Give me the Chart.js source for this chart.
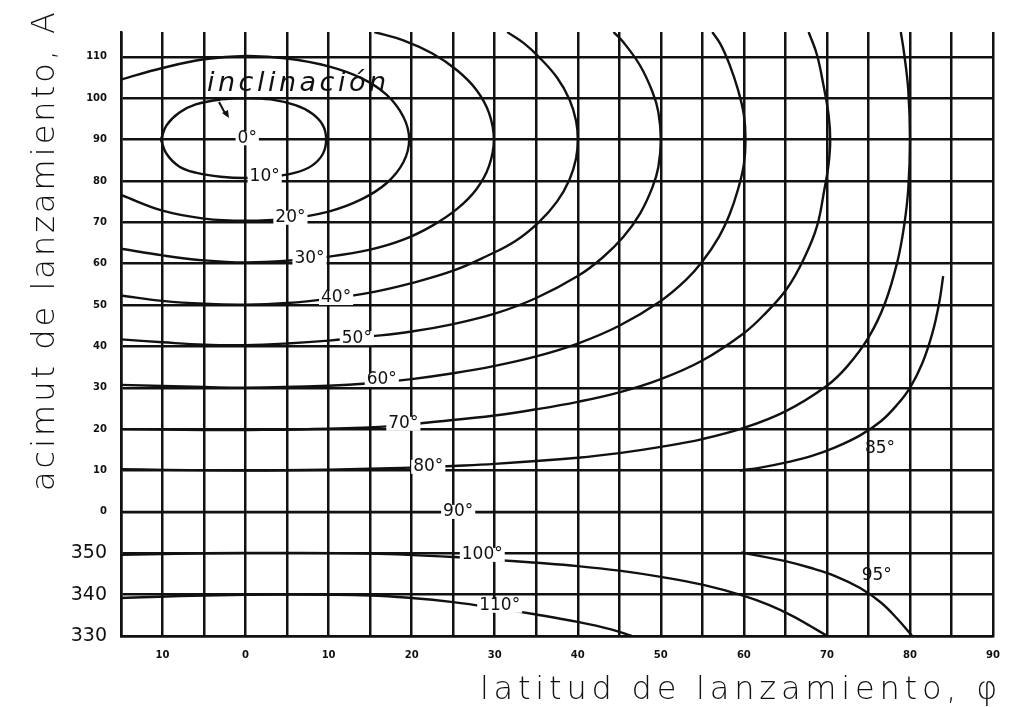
<!DOCTYPE html>
<html><head><meta charset="utf-8">
<script src="https://cdn.jsdelivr.net/npm/chart.js@4/dist/chart.umd.min.js"></script>
<style>html,body{margin:0;padding:0;background:#fff;}canvas{display:block;}</style>
</head><body>
<canvas id="c" width="1024" height="707"></canvas>
<script>
// ---- axis ticks ----
const xGrid = [-15,-10,-5,0,5,10,15,20,25,30,35,40,45,50,55,60,65,70,75,80,85,90];
const xTickValues = [-10,0,10,20,30,40,50,60,70,80,90];
const xTickLabels = ['10','0','10','20','30','40','50','60','70','80','90'];
const yTickValues = [-30,-20,-10,0,10,20,30,40,50,60,70,80,90,100,110];
const yTickLabels = ['330','340','350','0','10','20','30','40','50','60','70','80','90','100','110'];

// ---- contour curves: [latitude, azimuth] (azimuth 350 -> -10 etc.) ----
const curve10 = [[-10.2,90],[-9.5,93.5],[-8,96.5],[-6,98.5],[-3,99.7],[0,100],[3,99.7],[6,98.3],[8,96.3],[9.3,93.5],[9.7,90],[9.3,86.5],[8,83.7],[6,82],[3,81],[0,80.7],[-3,81],[-6,82],[-8,83.5],[-9.5,86.5],[-10.2,90]];
const curve20 = [[-15,104.5],[-10,107.3],[-5,109.4],[0,110.2],[5,109.6],[10,107.7],[14,104.8],[17,100.8],[19,95.5],[19.7,90],[19,84.5],[17,79.5],[14,75.6],[10,72.6],[5,70.9],[0,70.4],[-5,70.9],[-10,72.8],[-15,76.6]];
const curve30 = [[-15,63.6],[-10,62],[-5,60.8],[0,60.3],[5,60.7],[10,61.7],[15,63.4],[19,65.8],[22.5,69.2],[25.5,73.3],[27.8,78],[29.3,83.5],[29.9,90],[29.3,96.5],[27.8,102],[25.5,106.7],[22.5,110.8],[19,114],[15.5,116]];
const curve40 = [[-15,52.3],[-10,51],[-5,50.3],[0,50.1],[5,50.5],[10,51.5],[15,53],[20,55.3],[25,58.3],[29,61.8],[32.5,65.5],[35.3,70],[37.5,75],[39,80.3],[39.8,85.5],[40,90],[39.8,94.5],[39,99.7],[37.5,105],[35.3,110],[33.5,113.3],[31.5,116]];
const curve50 = [[-15,41.7],[-10,41],[-5,40.4],[0,40.3],[5,40.7],[10,41.4],[15,42.4],[20,43.6],[25,45.4],[30,47.9],[35,51.7],[40,57],[43,61.5],[45.5,66.5],[47.5,72.1],[49,78.5],[49.7,83.3],[50,90],[49.7,96.7],[49,101.5],[47.5,107.9],[45.5,113.5],[44.3,116]];
const curve60 = [[-15,30.7],[-5,30.2],[0,30],[10,30.5],[15,31.1],[20,32.1],[25,33.5],[30,35.3],[35,37.6],[40,40.7],[45,45],[50,51],[53,56],[55,60.5],[57,66.5],[58.3,72],[59.3,78],[60,84],[60.2,90],[60,96],[59.3,102],[58.3,108],[57.2,113],[56.2,116]];
const curve70 = [[-15,20],[-5,19.8],[0,19.8],[10,20.1],[18,20.8],[22,21.6],[30,23.3],[35,24.8],[40,26.6],[45,28.9],[50,32.1],[55,36.6],[60,43.2],[62.6,48],[65.2,54],[67.3,61.5],[68.8,69],[69.7,78],[70.2,84],[70.4,90],[70.2,96],[69.6,103],[68.8,110.5],[67.8,116]];
const curve80 = [[-15,10.3],[0,10],[10,10.2],[20,10.7],[25,11.1],[30,11.6],[40,13.1],[45,14.2],[50,15.7],[55,17.6],[60,20.3],[65,24.3],[70,30.5],[72.5,35.3],[75,42.1],[77,50.5],[78.5,60.6],[79.3,69.2],[79.8,78.1],[80,90],[79.8,101.9],[79.3,110.8],[78.9,116]];
const curve85 = [[59.5,10],[62,10.7],[65,11.9],[68,13.4],[71,15.6],[74,18.5],[76.5,21.9],[78.5,26],[80,30],[81.5,36],[82.7,43.2],[83.5,50.3],[84,57]];
const curve90 = [[-15,0],[90,0]];
const curve95 = [[59.7,-9.8],[62,-10.7],[65,-11.9],[68,-13.5],[71,-15.5],[74,-18.4],[76.5,-21.9],[78.5,-25.9],[80.4,-30.3]];
const curve100 = [[-15,-10.4],[-5,-10],[5,-9.9],[15,-10.1],[25,-10.9],[30,-11.6],[35,-12.3],[40,-13.1],[45,-14.2],[50,-15.7],[55,-17.6],[60,-20.3],[63,-22.5],[66,-25.3],[68,-27.6],[70.3,-30.3]];
const curve110 = [[-15,-20.8],[-5,-20.2],[5,-20],[15,-20.2],[20,-20.8],[25,-21.8],[30,-23.2],[35,-24.8],[40,-26.6],[44,-28.4],[46.5,-30]];

// ---- contour labels ----
const labelText = ['0°','10°','20°','30°','40°','50°','60°','70°','80°','90°','100°','110°','85°','95°'];
const labelLat  = [0.2, 2.3, 5.4, 7.7, 10.9, 13.4, 16.4, 19.0, 22.0, 25.6, 28.5, 30.6, 76.4, 76.0];
const labelAz   = [90.3, 81.0, 71.1, 61.2, 51.7, 42.0, 31.9, 21.3, 10.9, 0.0, -10.4, -22.7, 15.2, -15.4];

const curves = [curve10,curve20,curve30,curve40,curve50,curve60,curve70,curve80,curve85,curve90,curve95,curve100,curve110];
const curveNames = ['10°','20°','30°','40°','50°','60°','70°','80°','85°','90°','95°','100°','110°'];

const INK = '#111';

const decor = {
  id:'decor',
  beforeDraw(chart){
    const c = chart.ctx;
    c.save(); c.fillStyle='#fff'; c.fillRect(0,0,chart.width,chart.height); c.restore();
  },
  afterDatasetsDraw(chart){
    const c = chart.ctx, xs = chart.scales.x, ys = chart.scales.y;
    c.save();
    c.font = '17px "DejaVu Sans", sans-serif';
    c.textAlign = 'center'; c.textBaseline = 'middle';
    for (let i=0;i<labelText.length;i++){
      const px = xs.getPixelForValue(labelLat[i]);
      const py = ys.getPixelForValue(labelAz[i]);
      const w = c.measureText(labelText[i]).width;
      if (labelText[i] !== '85°' && labelText[i] !== '95°') {
        c.fillStyle = '#fff';
        c.fillRect(px - w/2 - 2, py - 7, w + 4, 14);
      }
      c.fillStyle = INK;
      c.fillText(labelText[i], px, py);
    }
    c.restore();
  },
  afterDraw(chart){
    const c = chart.ctx;
    c.save();
    c.fillStyle = INK;
    // "inclinación" annotation with arrow
    c.font = 'italic 27px "DejaVu Sans", sans-serif';
    c.letterSpacing = '3.5px';
    c.textAlign = 'left'; c.textBaseline = 'alphabetic';
    c.fillText('inclinación', 207, 91);
    c.letterSpacing = '0px';
    c.strokeStyle = INK; c.lineWidth = 2;
    c.beginPath(); c.moveTo(219,102); c.lineTo(226,115); c.stroke();
    c.beginPath(); c.moveTo(222,113); c.lineTo(229,118); c.lineTo(228,110); c.closePath(); c.fill();
    // axis titles
    c.font = '200 32px "DejaVu Sans", sans-serif';
    c.letterSpacing = '3px';
    c.textAlign = 'center';
    c.save();
    c.translate(54, 250);
    c.rotate(-Math.PI/2);
    c.fillText('acimut de lanzamiento, A', 0, 0);
    c.restore();
    c.letterSpacing = '4.8px';
    c.fillText('latitud de lanzamiento, φ', 741, 699);
    c.restore();
  }
};

new Chart(document.getElementById('c'), {
  type:'scatter',
  data:{
    datasets: curves.map((pts,i)=>({
      label: 'inclinación ' + curveNames[i],
      data: pts.map(p=>({x:p[0], y:p[1]})),
      showLine:true,
      borderColor:INK,
      borderWidth:2.4,
      pointRadius:0,
      tension:0.4,
      fill:false
    }))
  },
  options:{
    responsive:false,
    animation:false,
    layout:{padding:{top:32,right:31,left:0,bottom:0}},
    plugins:{legend:{display:false},tooltip:{enabled:false}},
    scales:{
      x:{
        type:'linear', min:-15, max:90,
        afterBuildTicks:s=>{ s.ticks = xGrid.map(v=>({value:v})); },
        afterFit:s=>{ s.height = 71; },
        grid:{color:INK, lineWidth:2.5, drawTicks:false},
        border:{color:INK, width:2.5},
        ticks:{
          padding:13, color:INK, autoSkip:false, maxRotation:0,
          font:{family:'"DejaVu Sans", sans-serif', size:10, weight:'bold'},
          callback:(v)=>{ const i = xTickValues.indexOf(v); return i>=0 ? xTickLabels[i] : ''; }
        }
      },
      y:{
        type:'linear', min:-30, max:116,
        afterBuildTicks:s=>{ s.ticks = yTickValues.map(v=>({value:v})); },
        afterFit:s=>{ s.width = 121; },
        grid:{color:INK, lineWidth:2.5, drawTicks:false},
        border:{color:INK, width:2.5},
        ticks:{
          padding:14, color:INK, autoSkip:false,
          font:(ctx)=> (ctx.tick && ctx.tick.value < 0)
            ? {family:'"DejaVu Sans", sans-serif', size:19}
            : {family:'"DejaVu Sans", sans-serif', size:10, weight:'bold'},
          callback:(v)=>{ const i = yTickValues.indexOf(v); return i>=0 ? yTickLabels[i] : ''; }
        }
      }
    }
  },
  plugins:[decor]
});
</script>
</body></html>
